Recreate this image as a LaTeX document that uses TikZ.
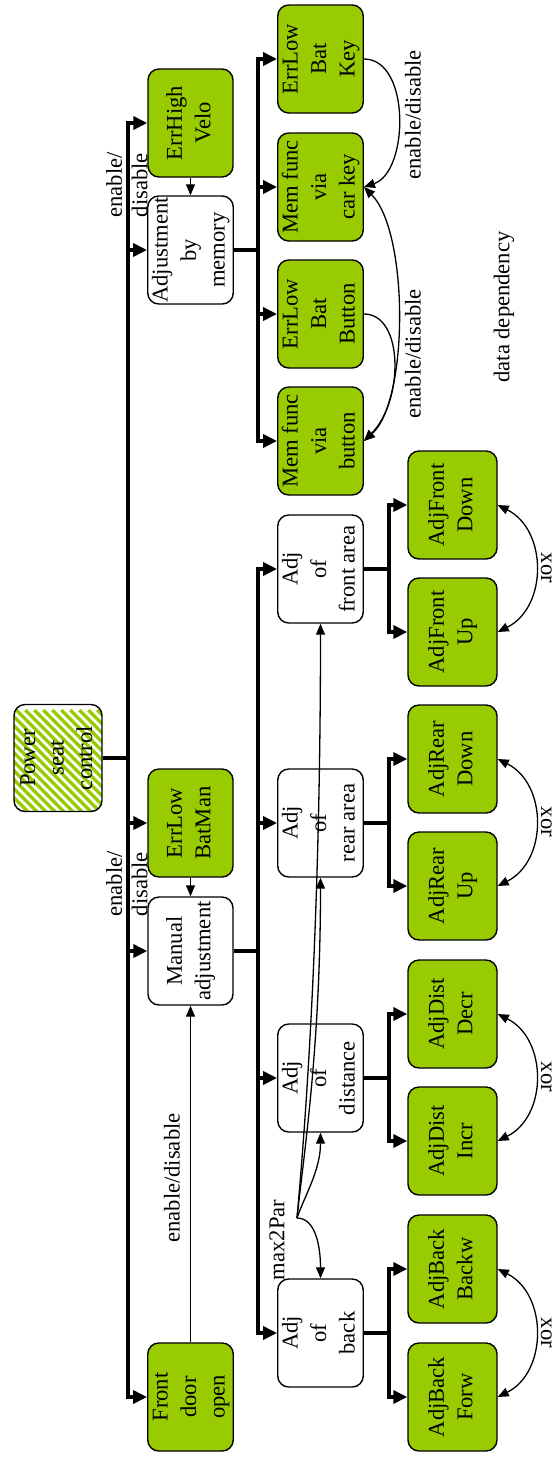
\documentclass[tikz,border=0pt]{standalone}
\usepackage{graphicx}
\usepackage{fontspec}
\setmainfont{Liberation Serif}
\usetikzlibrary{arrows.meta}
\definecolor{leaf}{HTML}{99CC00}

% text set bottom-to-top, one column per line
\newcommand{\vt}[1]{\rotatebox{90}{\begin{tabular}{@{}c@{}}#1\end{tabular}}}

\begin{document}
\begin{tikzpicture}[x=1pt,y=-1pt,
  font=\fontsize{22.6}{28.5}\selectfont,
  box/.style={draw=black,line width=1.4pt,rounded corners=11pt,
    minimum width=85pt,minimum height=108pt,inner sep=0pt,fill=white},
  gbox/.style={box,fill=leaf},
  leafbox/.style={gbox,minimum width=89pt},
  hatched/.style={box,minimum width=88pt,minimum height=107pt,
    path picture={\begin{scope}[shift={(path picture bounding box.center)}]
      \foreach \k in {-22,...,22}{\draw[leaf,line width=3.4pt] (\k*9-80,-80) -- ++(160,160);}
      \end{scope}}},
  bus/.style={line width=4.7pt,-{Triangle[length=14pt,width=13pt]}},
  link/.style={line width=1.3pt,-{Triangle[length=11pt,width=9pt]}},
  dlink/.style={line width=1.3pt,{Triangle[length=11pt,width=9pt]}-{Triangle[length=11pt,width=9pt]}},
  lbl/.style={inner sep=0pt}]
\useasboundingbox (0,0) rectangle (557,1460);

% root
\node[hatched] (power) at (58,758) {\vt{Power\\seat\\control}};

% first level
\node[gbox] (errhigh)   at (190.5,123)  {\vt{ErrHigh\\Velo}};
\node[box]  (mem)       at (190.5,250)  {\vt{Adjustment\\by\\memory}};
\node[gbox] (batman)    at (190.5,823)  {\vt{ErrLow\\BatMan}};
\node[box]  (manual)    at (190.5,951)  {\vt{Manual\\adjustment}};
\node[gbox] (frontdoor) at (190.5,1397) {\vt{Front\\door\\open}};

% memory functions
\node[gbox] (r1) at (320.5,59)  {\vt{ErrLow\\Bat\\Key}};
\node[gbox] (r2) at (320.5,187) {\vt{Mem func\\via\\car key}};
\node[gbox] (r3) at (320.5,314) {\vt{ErrLow\\Bat\\Button}};
\node[gbox] (r4) at (320.5,441) {\vt{Mem func\\via\\button}};

% manual adjustment groups
\node[box] (front) at (320.5,569)  {\vt{Adj\\of\\front area}};
\node[box] (rear)  at (320.5,823)  {\vt{Adj\\of\\rear area}};
\node[box] (dist)  at (320.5,1078) {\vt{Adj\\of\\distance}};
\node[box] (back)  at (320.5,1333) {\vt{Adj\\of\\back}};

% leaf functions
\node[leafbox] (fd) at (452.5,505)  {\vt{AdjFront\\Down}};
\node[leafbox] (fu) at (452.5,632)  {\vt{AdjFront\\Up}};
\node[leafbox] (rd) at (452.5,759)  {\vt{AdjRear\\Down}};
\node[leafbox] (ru) at (452.5,886)  {\vt{AdjRear\\Up}};
\node[leafbox] (dd) at (452.5,1014) {\vt{AdjDist\\Decr}};
\node[leafbox] (di) at (452.5,1141) {\vt{AdjDist\\Incr}};
\node[leafbox] (bb) at (452.5,1269) {\vt{AdjBack\\Backw}};
\node[leafbox] (bf) at (452.5,1397) {\vt{AdjBack\\Forw}};

% tree buses
\coordinate (t1) at (128,758);
\foreach \n in {errhigh,mem,batman,manual,frontdoor}
  \draw[bus] (power.east) -- (t1) |- (\n.west);
\coordinate (t2) at (258,250);
\foreach \n in {r1,r2,r3,r4}
  \draw[bus] (mem.east) -- (t2) |- (\n.west);
\coordinate (t3) at (258,951);
\foreach \n in {front,rear,dist,back}
  \draw[bus] (manual.east) -- (t3) |- (\n.west);
\foreach \p/\a/\b in {front/fd/fu,rear/rd/ru,dist/dd/di,back/bb/bf}{
  \draw[bus] (\p.east) -- ([xshift=25pt]\p.east) |- (\a.west);
  \draw[bus] (\p.east) -- ([xshift=25pt]\p.east) |- (\b.west);
}

% enable/disable dependencies
\draw[link] (errhigh.south) -- (mem.north);
\draw[link] (batman.south) -- (manual.north);
\draw[link] (frontdoor.north) -- (manual.south);
\draw[link] (r1.east) .. controls +(47,0) and +(45,-15) .. (r2.east);
\draw[link] (r3.east) .. controls +(40,0) and +(40,-40) .. (r4.east);
\draw[dlink] (r2.east) .. controls +(45,45) and +(45,-40) .. (r4.east);

% xor between opposite directions
\foreach \a/\b in {fd/fu,rd/ru,dd/di,bb/bf}
  \draw[dlink] (\a.east) .. controls +(50,25) and +(50,-25) .. (\b.east);

% max2Par constraint
\coordinate (m) at (297,1218);
\draw[link] (m) .. controls (315,1218) and (320.5,1245) .. (back.north);
\draw[link] (m) .. controls (305,1195) and (320.5,1170) .. (dist.south);
\draw[link] (m) .. controls (303,1160) and (320.5,1050) .. (rear.south);
\draw[link] (m) .. controls (303,1150) and (320.5,950) .. (front.south);

% labels
\node[lbl] (l1) at (129.5,185) {\def\arraystretch{0.89}\vt{enable/\\disable}};
\node[lbl] (l2) at (129.5,884) {\def\arraystretch{0.89}\vt{enable/\\disable}};
\node[lbl,rotate=90] (l3) at (172,1178) {enable/disable};
\node[lbl,rotate=90] (l4) at (413,115) {enable/disable};
\node[lbl,rotate=90] (l5) at (413,354) {enable/disable};
\node[lbl,rotate=90] (l6) at (504,307) {data dependency};
\node[lbl,rotate=90] (l7) at (277,1240) {max2Par};
\node[lbl,rotate=-90,anchor=base] (x1) at (541,568)  {xor};
\node[lbl,rotate=-90,anchor=base] (x2) at (541,822)  {xor};
\node[lbl,rotate=-90,anchor=base] (x3) at (541,1077) {xor};
\node[lbl,rotate=-90,anchor=base] (x4) at (541,1333) {xor};
\end{tikzpicture}
\end{document}
